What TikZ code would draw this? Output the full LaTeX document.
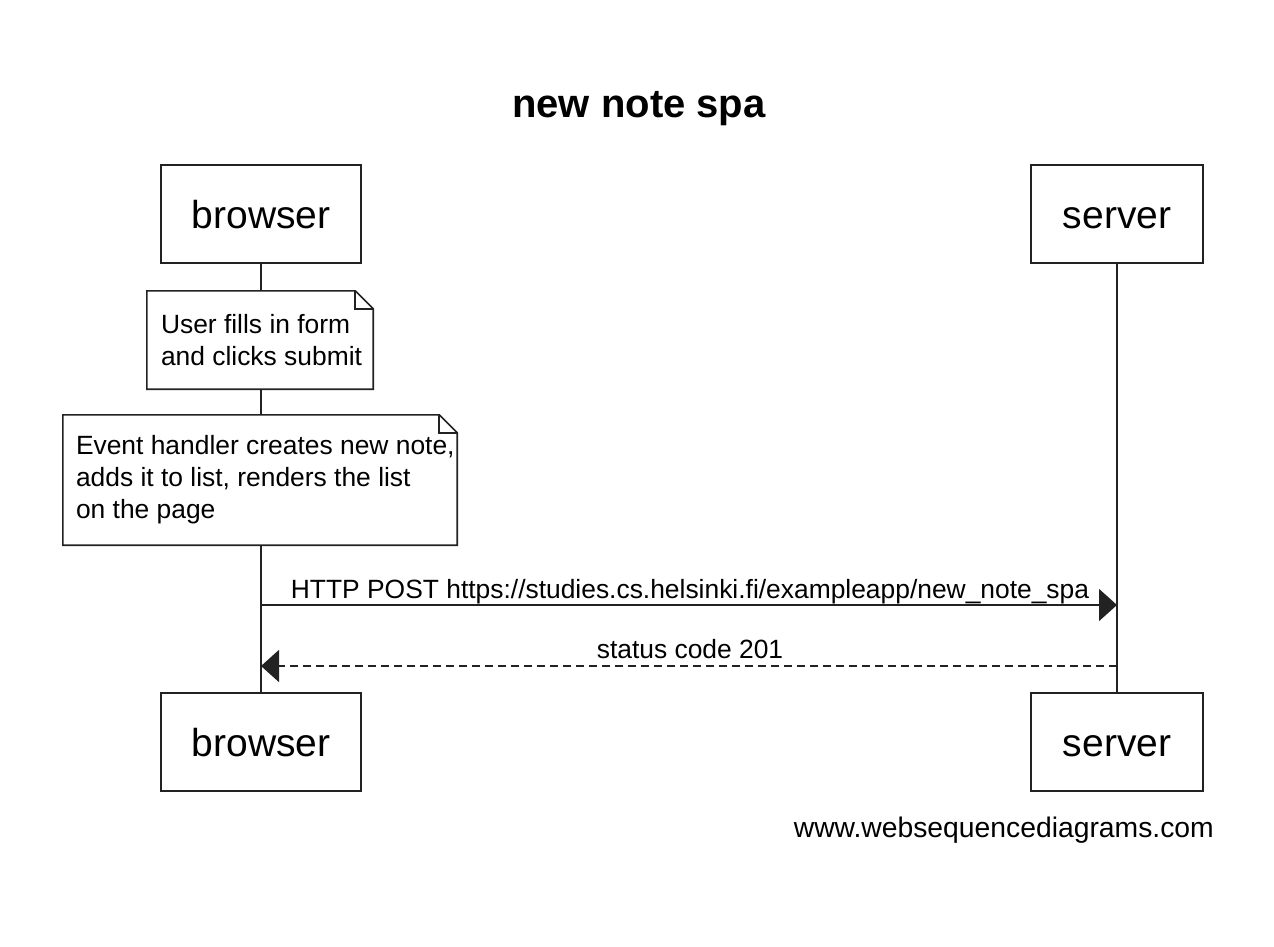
\documentclass[tikz,border=0pt]{standalone}
\usepackage{fontspec}
\setmainfont{Liberation Sans}
\usetikzlibrary{arrows.meta}
\definecolor{ln}{HTML}{222222}
\begin{document}
\begin{tikzpicture}[x=1pt,y=-1pt,
  actor/.style={draw=ln, line width=1.6pt, minimum width=#1, minimum height=98pt, inner sep=0pt, text height=28.5pt, text depth=0pt, font=\fontsize{39}{47}\selectfont},
  notebox/.style={inner sep=0pt},
  notetext/.style={anchor=west, align=left, inner sep=0pt, font=\fontsize{26.4}{32}\selectfont},
  noteline/.style={draw=ln, line width=1.6pt, line join=miter},
  life/.style={draw=ln, line width=1.6pt},
  msg/.style={draw=ln, line width=1.6pt, -{Triangle[length=18pt,width=32pt]}},
  reply/.style={msg, dash pattern=on 8pt off 5pt},
  lbl/.style={anchor=base, inner sep=0pt, font=\fontsize{26.4}{32}\selectfont}]
\useasboundingbox (0,0) rectangle (1274,946);

\node[anchor=base, inner sep=0pt, font=\bfseries\fontsize{40}{48}\selectfont] (title) at (639,117) {new note spa};

\node[actor=200pt] (b1) at (261,214) {browser};
\node[actor=172pt] (s1) at (1117,214) {server};
\node[actor=200pt] (b2) at (261,742) {browser};
\node[actor=172pt] (s2) at (1117,742) {server};

\node[notebox, minimum width=226pt, minimum height=98pt] (n1) at (260,340) {};
\node[notetext] (n1t) at ([xshift=14pt]n1.west) {User fills in form\\and clicks submit};
\node[notebox, minimum width=394pt, minimum height=130pt] (n2) at (260,480) {};
\node[notetext] (n2t) at ([xshift=13pt]n2.west) {Event handler creates new note,\\adds it to list, renders the list\\on the page};

\foreach \n in {n1,n2}{
  \draw[noteline] (\n.north west) -- ([xshift=-18pt]\n.north east) -- ([yshift=-18pt]\n.north east) -- (\n.south east) -- (\n.south west) -- cycle;
  \draw[noteline] ([xshift=-18pt]\n.north east) |- ([yshift=-18pt]\n.north east);
}

\draw[life] (b1.south) -- (b1.south |- n1.north);
\draw[life] (b1.south |- n1.south) -- (b1.south |- n2.north);
\draw[life] (b1.south |- n2.south) -- (b2.north);
\draw[life] (s1.south) -- (s2.north);

\coordinate (m1s) at (261,605);
\coordinate (m1e) at (1117,605);
\coordinate (m2s) at (1117,666);
\coordinate (m2e) at (261,666);

\draw[msg] (m1s) -- (m1e);
\draw[reply] (m2s) -- (m2e);
\node[lbl] (l1) at (690,598) {HTTP POST https://studies.cs.helsinki.fi/exampleapp/new\textunderscore note\textunderscore spa};
\node[lbl] (l2) at (690,658) {status code 201};

\node[anchor=base east, inner sep=0pt, font=\fontsize{28.3}{34}\selectfont] (wsd) at (1214,837) {www.websequencediagrams.com};
\end{tikzpicture}
\end{document}
